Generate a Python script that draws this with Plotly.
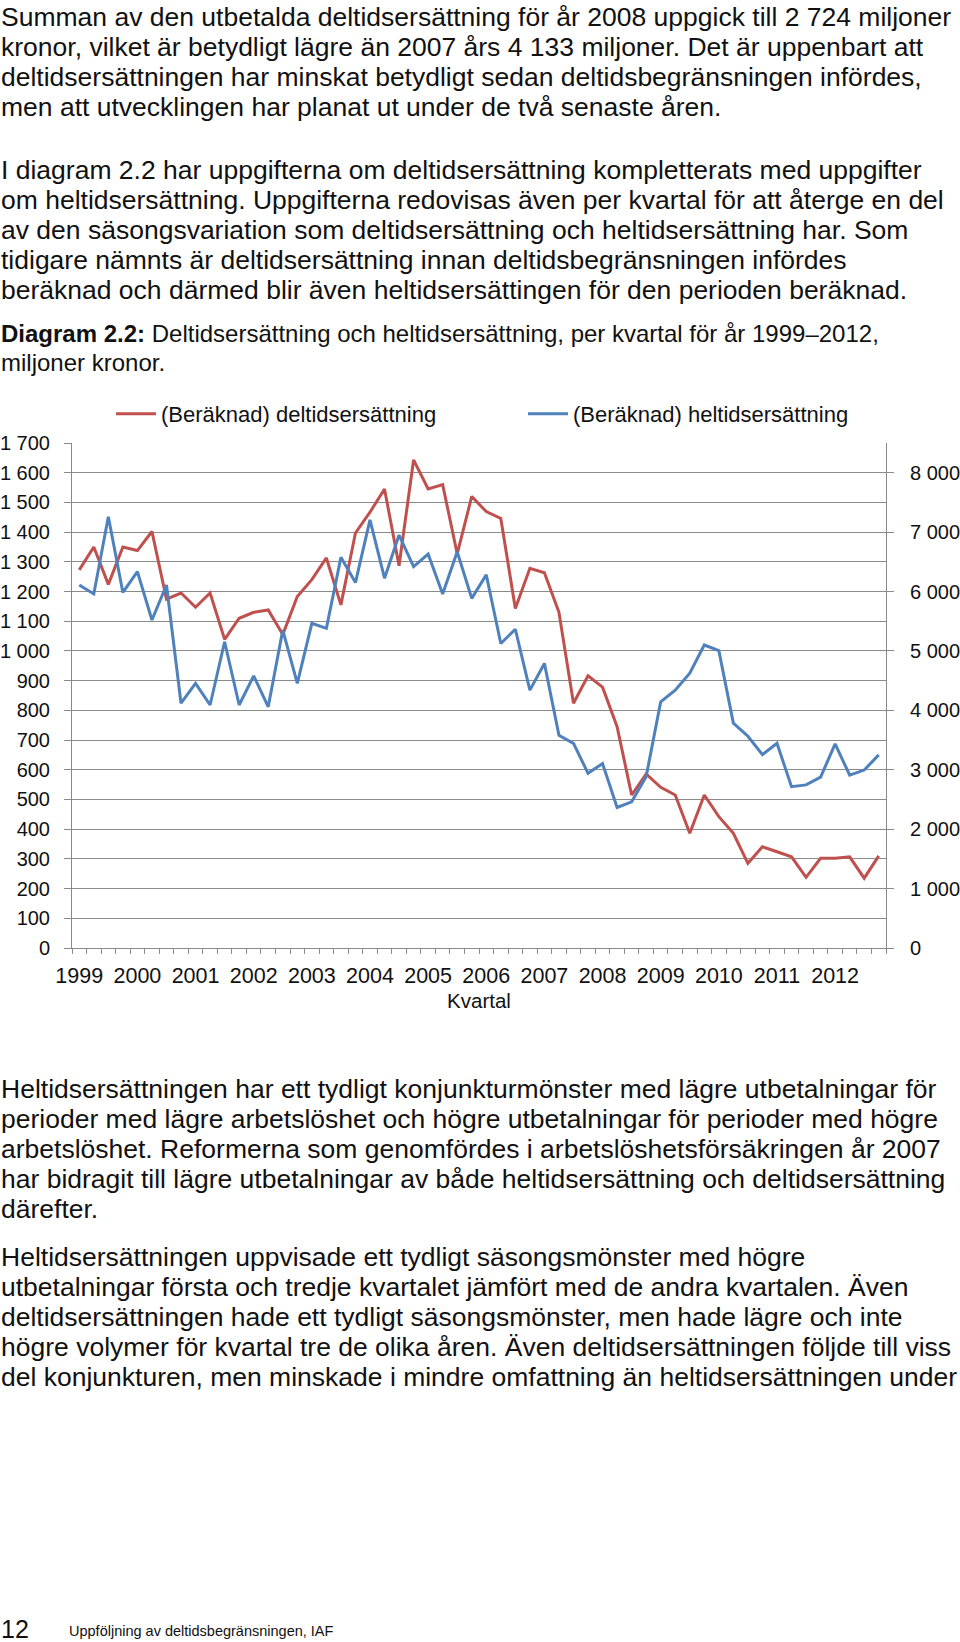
import plotly.graph_objects as go

W, H = 960, 1642

years = [str(y) for y in range(1999, 2013)]
quarters = [f"{y} K{q}" for y in years for q in range(1, 5)]

deltid = [1273, 1350, 1224, 1350,
          1338, 1402, 1174, 1195,
          1147, 1195, 1039, 1110,
          1130, 1138, 1055, 1183,
          1240, 1313, 1155, 1397,
          1467, 1545, 1287, 1643,
          1545, 1560, 1327, 1520,
          1469, 1446, 1143, 1278,
          1263, 1130, 824, 916,
          878, 745, 515, 586,
          541, 515, 386, 515,
          442, 386, 285, 341,
          324, 307, 238, 302,
          302, 307, 235, 310]

heltid = [6110, 5960, 7260, 5985,
          6335, 5520, 6110, 4120,
          4455, 4090, 5155, 4090,
          4580, 4060, 5350, 4455,
          5465, 5380, 6575, 6150,
          7205, 6225, 6950, 6420,
          6630, 5960, 6670, 5885,
          6280, 5125, 5365, 4340,
          4790, 3580, 3445, 2940,
          3105, 2365, 2460, 2885,
          4145, 4340, 4625, 5100,
          5005, 3785, 3565, 3255,
          3445, 2715, 2745, 2875,
          3435, 2910, 2995, 3250]

left_ticks = list(range(0, 1701, 100))
right_ticks = list(range(0, 8001, 1000))

top_lines = [
    "Summan av den utbetalda deltidsersättning för år 2008 uppgick till 2 724 miljoner",
    "kronor, vilket är betydligt lägre än 2007 års 4 133 miljoner. Det är uppenbart att",
    "deltidsersättningen har minskat betydligt sedan deltidsbegränsningen infördes,",
    "men att utvecklingen har planat ut under de två senaste åren.",
]
para2_lines = [
    "I diagram 2.2 har uppgifterna om deltidsersättning kompletterats med uppgifter",
    "om heltidsersättning. Uppgifterna redovisas även per kvartal för att återge en del",
    "av den säsongsvariation som deltidsersättning och heltidsersättning har. Som",
    "tidigare nämnts är deltidsersättning innan deltidsbegränsningen infördes",
    "beräknad och därmed blir även heltidsersättingen för den perioden beräknad.",
]
caption_lines = [
    "<b>Diagram 2.2:</b> Deltidsersättning och heltidsersättning, per kvartal för år 1999–2012,",
    "miljoner kronor.",
]
para3_lines = [
    "Heltidsersättningen har ett tydligt konjunkturmönster med lägre utbetalningar för",
    "perioder med lägre arbetslöshet och högre utbetalningar för perioder med högre",
    "arbetslöshet. Reformerna som genomfördes i arbetslöshetsförsäkringen år 2007",
    "har bidragit till lägre utbetalningar av både heltidsersättning och deltidsersättning",
    "därefter.",
]
para4_lines = [
    "Heltidsersättningen uppvisade ett tydligt säsongsmönster med högre",
    "utbetalningar första och tredje kvartalet jämfört med de andra kvartalen. Även",
    "deltidsersättningen hade ett tydligt säsongsmönster, men hade lägre och inte",
    "högre volymer för kvartal tre de olika åren. Även deltidsersättningen följde till viss",
    "del konjunkturen, men minskade i mindre omfattning än heltidsersättningen under",
]

FONT = "Liberation Sans, Arial, sans-serif"
RED = "#C0504D"
BLUE = "#4F81BD"
GRID = "#8a8a8a"
TXT = 26.5

x = list(range(len(quarters)))

fig = go.Figure()
fig.add_trace(go.Scatter(x=x, y=deltid, mode="lines", name="(Beräknad) deltidsersättning",
                         line=dict(color=RED, width=3), yaxis="y"))
fig.add_trace(go.Scatter(x=x, y=heltid, mode="lines", name="(Beräknad) heltidsersättning",
                         line=dict(color=BLUE, width=3), yaxis="y2"))

PL, PR, PT, PB = 72, 886, 443, 948

fig.update_layout(
    width=W, height=H,
    margin=dict(l=0, r=0, t=0, b=0, autoexpand=False),
    paper_bgcolor="white", plot_bgcolor="white",
    separators=", ",
    font=dict(family=FONT, color="#111", size=20),
    showlegend=True,
    legend=dict(orientation="h", x=111 / W, y=1 - 414 / H, xanchor="left", yanchor="middle",
                entrywidth=357, entrywidthmode="pixels", itemwidth=40,
                font=dict(size=22, family=FONT, color="#111"), bgcolor="rgba(0,0,0,0)"),
    xaxis=dict(domain=[PL / W, PR / W], range=[-0.5, len(quarters) - 0.5],
               tickmode="array", tickvals=[4 * i for i in range(len(years))], ticktext=years,
               ticks="", showgrid=False, zeroline=False,
               showline=True, linecolor=GRID, linewidth=1,
               tickfont=dict(size=21.5, family=FONT, color="#111"),
               ticklabelstandoff=8,
               minor=dict(ticks="outside", ticklen=5, tickcolor=GRID, tickmode="linear",
                          tick0=-0.5, dtick=1, showgrid=False),
               title=dict(text="Kvartal", font=dict(size=20.5, family=FONT, color="#111"), standoff=6)),
    yaxis=dict(domain=[1 - PB / H, 1 - PT / H], range=[0, 1700],
               tickmode="array", tickvals=left_ticks, tickformat=",d",
               showgrid=True, gridcolor=GRID, gridwidth=1, zeroline=False,
               showline=True, linecolor=GRID, ticks="outside", ticklen=7, tickcolor=GRID,
               ticklabelstandoff=10,
               tickfont=dict(size=20, family=FONT, color="#111")),
    yaxis2=dict(overlaying="y", side="right", range=[0, 8500], anchor="x",
                tickmode="array", tickvals=right_ticks, tickformat=",d",
                showgrid=False, zeroline=False,
                showline=True, linecolor=GRID, ticks="outside", ticklen=7, tickcolor=GRID,
                ticklabelstandoff=12,
                tickfont=dict(size=20, family=FONT, color="#111")),
)

annotations = []


def add_lines(lines, y0, step, size=TXT):
    for i, t in enumerate(lines):
        annotations.append(dict(text=t, x=0, y=1 - (y0 + i * step) / H, xref="paper", yref="paper",
                                xanchor="left", yanchor="middle", showarrow=False, align="left",
                                borderpad=0,
                                font=dict(size=size, family=FONT, color="#111")))


add_lines(top_lines, 17, 30)
add_lines(para2_lines, 170, 30)
add_lines(caption_lines, 334, 29, size=24)
add_lines(para3_lines, 1089, 30)
add_lines(para4_lines, 1257, 30)

annotations.append(dict(text="12", x=0, y=1 - 1629 / H, xref="paper", yref="paper",
                        xanchor="left", yanchor="middle", showarrow=False, borderpad=0,
                        font=dict(size=25, family=FONT, color="#111")))
annotations.append(dict(text="Uppföljning av deltidsbegränsningen, IAF", x=68 / W, y=1 - 1631 / H,
                        xref="paper", yref="paper", xanchor="left", yanchor="middle", showarrow=False,
                        borderpad=0, font=dict(size=14.5, family=FONT, color="#111")))

fig.update_layout(annotations=annotations)

fig.write_html("out.html")
